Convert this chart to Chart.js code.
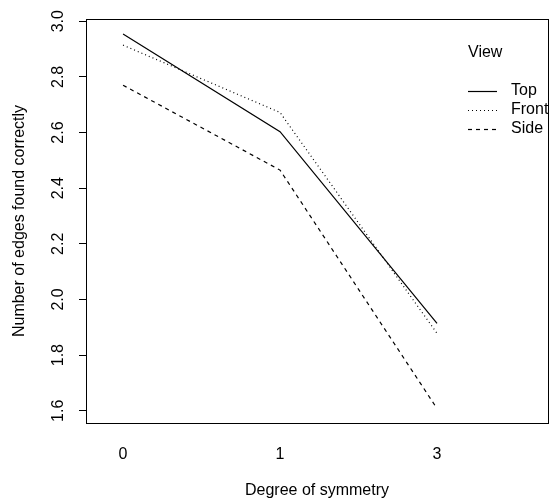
<!DOCTYPE html>
<html lang="en">
<head>
    <meta charset="UTF-8">
    <title>Interaction plot</title>
    <style>
        body {
            margin: 0;
            padding: 0;
            background-color: #fff;
        }
        .chart-container {
            width: 550px;
            height: 500px;
        }
    </style>
    <script src="https://cdn.jsdelivr.net/npm/chart.js"></script>
</head>
<body>
    <div class="chart-container">
        <canvas id="chart"></canvas>
    </div>

    <script>
        // data
        const symmetryLevels = ['0', '1', '3'];
        const viewNames = ['Top', 'Front', 'Side'];
        const topValues = [2.954, 2.603, 1.914];
        const frontValues = [2.914, 2.672, 1.878];
        const sideValues = [2.770, 2.465, 1.608];
        const yTicks = [1.6, 1.8, 2.0, 2.2, 2.4, 2.6, 2.8, 3.0];

        const FONT = "'Liberation Sans', Arial, sans-serif";

        function toPoints(values) {
            return values.map((v, i) => ({ x: i + 1, y: v }));
        }

        // box round the plot + legend in the upper right
        const boxAndLegend = {
            id: 'boxAndLegend',
            afterDraw(chart) {
                const ctx = chart.ctx;
                const a = chart.chartArea;
                ctx.save();
                ctx.strokeStyle = '#000';
                ctx.lineWidth = 1;
                ctx.strokeRect(Math.round(a.left) + 0.5, Math.round(a.top) + 0.5,
                    Math.round(a.right - a.left), Math.round(a.bottom - a.top));

                ctx.fillStyle = '#000';
                ctx.font = '16px ' + FONT;
                ctx.textBaseline = 'middle';
                ctx.textAlign = 'left';
                ctx.fillText('View', 468, 53);
                chart.data.datasets.forEach((ds, i) => {
                    const y = 91 + i * 19;
                    ctx.beginPath();
                    ctx.setLineDash(ds.borderDash || []);
                    ctx.lineWidth = ds.borderWidth;
                    ctx.moveTo(468, y + 0.5);
                    ctx.lineTo(497, y + 0.5);
                    ctx.stroke();
                    ctx.setLineDash([]);
                    ctx.fillText(ds.label, 511, y);
                });
                ctx.restore();
            }
        };

        new Chart(document.getElementById('chart'), {
            type: 'line',
            data: {
                datasets: [
                    { label: viewNames[0], data: toPoints(topValues), borderDash: [] },
                    { label: viewNames[1], data: toPoints(frontValues), borderDash: [1, 3] },
                    { label: viewNames[2], data: toPoints(sideValues), borderDash: [4, 4] }
                ].map(d => Object.assign(d, {
                    borderColor: '#000',
                    borderWidth: 1.2,
                    pointRadius: 0,
                    fill: false,
                    tension: 0
                }))
            },
            options: {
                responsive: true,
                maintainAspectRatio: false,
                animation: false,
                layout: { padding: { top: 19, right: 2, left: 0, bottom: 0 } },
                plugins: {
                    legend: { display: false },
                    tooltip: { enabled: false }
                },
                scales: {
                    x: {
                        type: 'linear',
                        min: 0.764,
                        max: 3.707,
                        afterBuildTicks: s => { s.ticks = symmetryLevels.map((_, i) => ({ value: i + 1 })); },
                        afterFit: s => { s.height = 77; },
                        grid: { display: false },
                        border: { display: false },
                        ticks: {
                            color: '#000',
                            padding: 14,
                            maxRotation: 0,
                            autoSkip: false,
                            font: { family: FONT, size: 16 },
                            callback: v => symmetryLevels[Math.round(v) - 1]
                        },
                        title: {
                            display: true,
                            text: 'Degree of symmetry',
                            color: '#000',
                            padding: { top: 0, bottom: 0 },
                            font: { family: FONT, size: 16 }
                        }
                    },
                    y: {
                        min: 1.556,
                        max: 3.008,
                        afterBuildTicks: s => { s.ticks = yTicks.map(v => ({ value: v })); },
                        afterFit: s => { s.width = 86; },
                        grid: {
                            drawOnChartArea: false,
                            drawTicks: true,
                            tickLength: 7,
                            tickColor: '#000'
                        },
                        border: { display: false },
                        ticks: {
                            color: '#000',
                            padding: 9,
                            minRotation: 90,
                            maxRotation: 90,
                            crossAlign: 'center',
                            autoSkip: false,
                            font: { family: FONT, size: 16 },
                            callback: v => v.toFixed(1)
                        },
                        title: {
                            display: true,
                            text: 'Number of edges found correctly',
                            color: '#000',
                            padding: { top: 10, bottom: 0 },
                            font: { family: FONT, size: 16 }
                        }
                    }
                }
            },
            plugins: [boxAndLegend]
        });
    </script>
</body>
</html>
